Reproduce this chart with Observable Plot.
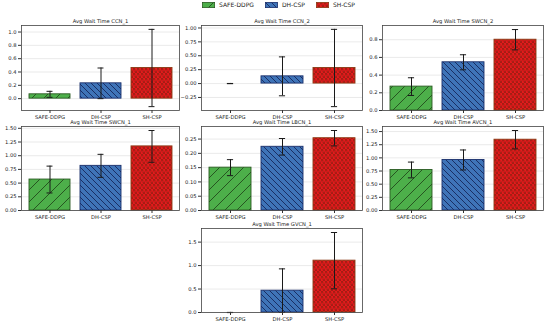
<!DOCTYPE html>
<html><head><meta charset="utf-8">
<script src="https://cdn.jsdelivr.net/npm/d3@7"></script>
<script src="https://cdn.jsdelivr.net/npm/@observablehq/plot@0.6"></script>
<style>
body{margin:0;background:#fff;}
#root{position:relative;width:550px;height:325px;overflow:hidden;font-family:"DejaVu Sans",sans-serif;background:#fff;}
.panel{position:absolute;}
.panel svg{overflow:visible;}
#legend{position:absolute;left:202px;top:1px;display:flex;align-items:center;font-size:6px;color:#222;white-space:nowrap;}
#legend .it{display:flex;align-items:center;margin-right:11px;}
#legend svg{margin-right:4px;}
</style></head><body>
<svg width="0" height="0" style="position:absolute;left:0;top:0">
<defs>
 <pattern id="pGreen" patternUnits="userSpaceOnUse" width="12" height="12">
   <rect width="12" height="12" fill="#4daf4a"/>
   <path d="M0,12 L12,0 M-3,3 L3,-3 M9,15 L15,9" stroke="#1d3d17" stroke-width="0.8"/>
 </pattern>
 <pattern id="pBlue" patternUnits="userSpaceOnUse" width="6" height="6">
   <rect width="6" height="6" fill="#3f74b8"/>
   <path d="M0,0 L6,6 M-3,3 L3,9 M3,-3 L9,3" stroke="#16275a" stroke-width="0.9"/>
 </pattern>
 <pattern id="pRed" patternUnits="userSpaceOnUse" width="4" height="5">
   <rect width="4" height="5" fill="#e41a1c"/>
   <circle cx="1" cy="1.25" r="0.9" fill="none" stroke="#6a1e0c" stroke-width="0.6"/>
   <circle cx="3" cy="3.75" r="0.9" fill="none" stroke="#6a1e0c" stroke-width="0.6"/>
 </pattern>
</defs></svg>
<div id="root"><div id="legend"></div></div>
<script>
// ---- data ----
const methods = ["SAFE-DDPG", "DH-CSP", "SH-CSP"];
const panelTitles = ["Avg Wait Time CCN_1", "Avg Wait Time CCN_2", "Avg Wait Time SWCN_2",
                     "Avg Wait Time SWCN_1", "Avg Wait Time LBCN_1", "Avg Wait Time AVCN_1",
                     "Avg Wait Time GVCN_1"];
const meanCCN1 = [0.065, 0.23, 0.46];   const errCCN1 = [0.045, 0.23, 0.58];
const meanCCN2 = [0.0, 0.13, 0.28];     const errCCN2 = [0.002, 0.35, 0.695];
const meanSWCN2 = [0.27, 0.545, 0.80];  const errSWCN2 = [0.10, 0.085, 0.115];
const meanSWCN1 = [0.565, 0.815, 1.17]; const errSWCN1 = [0.245, 0.21, 0.29];
const meanLBCN1 = [0.15, 0.223, 0.253]; const errLBCN1 = [0.028, 0.029, 0.027];
const meanAVCN1 = [0.77, 0.96, 1.345];  const errAVCN1 = [0.15, 0.19, 0.175];
const meanGVCN1 = [0.0, 0.465, 1.105];  const errGVCN1 = [0.002, 0.465, 0.60];
const ticksCCN1 = [0, 0.2, 0.4, 0.6, 0.8, 1.0];
const ticksCCN2 = [-0.25, 0, 0.25, 0.5, 0.75, 1.0];
const ticksSWCN2 = [0, 0.2, 0.4, 0.6, 0.8];
const ticksSWCN1 = [0, 0.25, 0.5, 0.75, 1.0, 1.25, 1.5];
const ticksLBCN1 = [0, 0.05, 0.10, 0.15, 0.20, 0.25];
const ticksAVCN1 = [0, 0.25, 0.5, 0.75, 1.0, 1.25, 1.5];
const ticksGVCN1 = [0, 0.5, 1.0, 1.5];
const tickDecimals = [1, 2, 1, 2, 2, 2, 1];

const allMeans = [meanCCN1, meanCCN2, meanSWCN2, meanSWCN1, meanLBCN1, meanAVCN1, meanGVCN1];
const allErrs = [errCCN1, errCCN2, errSWCN2, errSWCN1, errLBCN1, errAVCN1, errGVCN1];
const allTicks = [ticksCCN1, ticksCCN2, ticksSWCN2, ticksSWCN1, ticksLBCN1, ticksAVCN1, ticksGVCN1];

// ---- styles / layout ----
const fills = ["url(#pGreen)", "url(#pBlue)", "url(#pRed)"];
const edges = ["#2a5a22", "#1a2f6b", "#8b3a14"];
const frames = [ // frame left, top, width, height
  [21, 25, 158, 85], [201, 25, 161, 85], [382, 25, 161, 85],
  [21, 126, 158, 84], [201, 126, 161, 84], [382, 126, 161, 84],
  [201, 228, 161, 84]
];
const ML = 24, MR = 4, MT = 12, MB = 14;
const FONT = "DejaVu Sans";

const root = document.getElementById("root");

allMeans.forEach((means, p) => {
  const errs = allErrs[p];
  const rows = methods.map((m, i) => ({method: m, mean: means[i], lo: means[i] - errs[i], hi: means[i] + errs[i]}));
  let lo = Math.min(0, d3.min(rows, d => d.lo));
  let hi = d3.max(rows, d => d.hi);
  const span = hi - lo;
  const yDom = [lo < -0.01 ? lo - 0.05 * span : 0, hi + 0.05 * span];
  const [fx, fy, fw, fh] = frames[p];
  const capInset = (fw * 0.8 / 3.08 - 6) / 2;
  const marks = [
    Plot.gridY(allTicks[p], {stroke: "#b0b0b0", strokeOpacity: 0.45, strokeWidth: 0.6}),
    ...methods.map((m, i) => Plot.barY(rows.filter(d => d.method === m && d.mean !== 0), {
      x: "method", y1: 0, y2: "mean", fill: fills[i], stroke: edges[i], strokeWidth: 0.9
    })),
    Plot.ruleX(rows, {x: "method", y1: "lo", y2: "hi", stroke: "#1a1a1a", strokeWidth: 1}),
    Plot.tickY(rows, {x: "method", y: "lo", stroke: "#1a1a1a", strokeWidth: 1, insetLeft: capInset, insetRight: capInset}),
    Plot.tickY(rows, {x: "method", y: "hi", stroke: "#1a1a1a", strokeWidth: 1, insetLeft: capInset, insetRight: capInset}),
    Plot.frame({stroke: "#444", strokeWidth: 0.8}),
    Plot.axisY({ticks: allTicks[p], tickFormat: d3.format("." + tickDecimals[p] + "f"), tickSize: 3, tickPadding: 2, label: null, fontSize: 5.2, stroke: "#333"}),
    Plot.axisX({tickSize: 3, tickPadding: 2, label: null, fontSize: 5.2, stroke: "#333"}),
    Plot.text([panelTitles[p]], {frameAnchor: "top", dy: -4.5, lineAnchor: "middle", fontSize: 5.2, fill: "#222"})
  ];
  const chart = Plot.plot({
    width: fw + ML + MR, height: fh + MT + MB,
    marginLeft: ML, marginRight: MR, marginTop: MT, marginBottom: MB,
    style: {fontFamily: FONT, fontSize: "5.2px", color: "#222", background: "transparent", overflow: "visible"},
    x: {domain: methods, paddingInner: 0.2, paddingOuter: 0.14, label: null},
    y: {domain: yDom, label: null},
    marks
  });
  const wrap = document.createElement("div");
  wrap.className = "panel";
  wrap.style.left = (fx - ML) + "px";
  wrap.style.top = (fy - MT) + "px";
  wrap.appendChild(chart);
  root.appendChild(wrap);
});

// legend
const leg = document.getElementById("legend");
methods.forEach((m, i) => {
  const it = document.createElement("div");
  it.className = "it";
  it.innerHTML = `<svg width="13" height="6"><rect x="0.4" y="0.4" width="12.2" height="5.2" fill="${fills[i]}" stroke="${edges[i]}" stroke-width="0.8"/></svg><span>${m}</span>`;
  leg.appendChild(it);
});
</script>
</body></html>
